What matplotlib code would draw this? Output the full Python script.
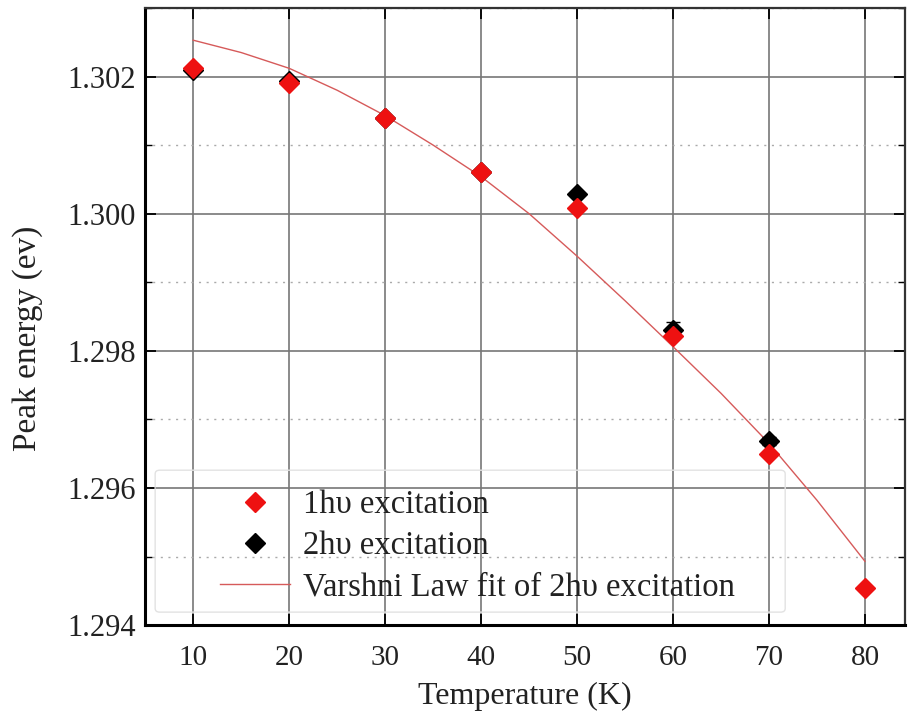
import numpy as np
import matplotlib.pyplot as plt
from matplotlib.ticker import MultipleLocator
from matplotlib.lines import Line2D
from matplotlib.patches import FancyBboxPatch

# Peak energy vs temperature for the two excitation schemes
temps_1hv = [10, 20, 30, 40, 50, 60, 70, 80]
energy_1hv = [1.30213, 1.30191, 1.30139, 1.30061, 1.30009, 1.29822, 1.29650, 1.29454]

temps_2hv = [10, 20, 30, 40, 50, 60, 70]
energy_2hv = [1.30209, 1.30194, 1.30139, 1.30061, 1.30028, 1.29830, 1.29669]
err_2hv = [0.0, 0.0, 0.0, 0.0, 0.0, 0.00012, 0.00006]

# Varshni fit curve (sampled every 5 K)
fit_t = [10, 15, 20, 25, 30, 35, 40, 45, 50, 55, 60, 65, 70, 75, 80]
fit_e = [1.30253, 1.30235, 1.30212, 1.30180, 1.30143, 1.30100, 1.30054, 1.30000,
         1.29938, 1.29873, 1.29806, 1.29738, 1.29665, 1.29582, 1.29493]

plt.rcParams['font.family'] = ['Liberation Serif', 'DejaVu Serif']

RED = '#ee1111'
FIT = '#d65a5a'
TXT = '#222222'

fig = plt.figure(figsize=(9.08, 7.26), dpi=100)
ax = fig.add_axes([0.160, 0.139, 0.837, 0.850])

ax.plot(fit_t, fit_e, color=FIT, lw=1.0, zorder=3)
ax.errorbar(temps_2hv, energy_2hv, yerr=err_2hv, fmt='D', color='black',
            markersize=10, capsize=5, elinewidth=1.2, zorder=4)
ax.plot(temps_1hv, energy_1hv, 'D', color=RED, markersize=10, zorder=5)

ax.set_xlim(5, 84.2)
ax.set_ylim(1.294, 1.303)
ax.xaxis.set_major_locator(MultipleLocator(10))
ax.yaxis.set_major_locator(MultipleLocator(0.002))
ax.yaxis.set_minor_locator(MultipleLocator(0.001))
ax.yaxis.set_major_formatter(plt.FormatStrFormatter('%.3f'))

ax.grid(which='major', color='#777777', lw=1.2)
ax.grid(which='minor', axis='y', color='#aaaaaa', lw=1.0, ls=(0, (1.5, 4)))
ax.set_axisbelow(True)

ax.tick_params(which='both', direction='in', top=True, right=True, labelcolor=TXT)
ax.tick_params(which='major', length=8, width=1.3)
ax.tick_params(which='minor', length=5, width=1.0)
ax.tick_params(axis='x', pad=14, labelsize=21)
ax.tick_params(axis='y', pad=7, labelsize=22)
for side in ['left', 'bottom']:
    ax.spines[side].set_linewidth(2.2)
for side in ['top', 'right']:
    ax.spines[side].set_linewidth(1.6)
    ax.spines[side].set_color('#333333')

ax.set_xlabel('Temperature (K)', fontsize=23, color=TXT, labelpad=8)
ax.set_ylabel('Peak energy (ev)', fontsize=24, color=TXT)
ax.yaxis.set_label_coords(-0.134, 0.465)

# faint legend box
box = FancyBboxPatch((0.013, 0.021), 0.829, 0.230, boxstyle='round,pad=0,rounding_size=0.006',
                     transform=ax.transAxes, facecolor='none', edgecolor='#e2e2e2',
                     lw=1.0, zorder=2)
ax.add_patch(box)

handles = [
    Line2D([], [], ls='none', marker='D', color=RED, markersize=10.5),
    Line2D([], [], ls='none', marker='D', color='black', markersize=10.5),
    Line2D([], [], color=FIT, lw=1.0),
]
labels = ['1h\u03c5 excitation', '2h\u03c5 excitation',
          'Varshni Law fit of 2h\u03c5 excitation']
leg = ax.legend(handles, labels, loc='center left', bbox_to_anchor=(0.098, 0.128),
                fontsize=23.5, frameon=False, handlelength=2.15, handletextpad=0.4,
                labelspacing=0.33, borderpad=0, borderaxespad=0)
for t in leg.get_texts():
    t.set_color(TXT)

fig.savefig('out.png', dpi=100)
